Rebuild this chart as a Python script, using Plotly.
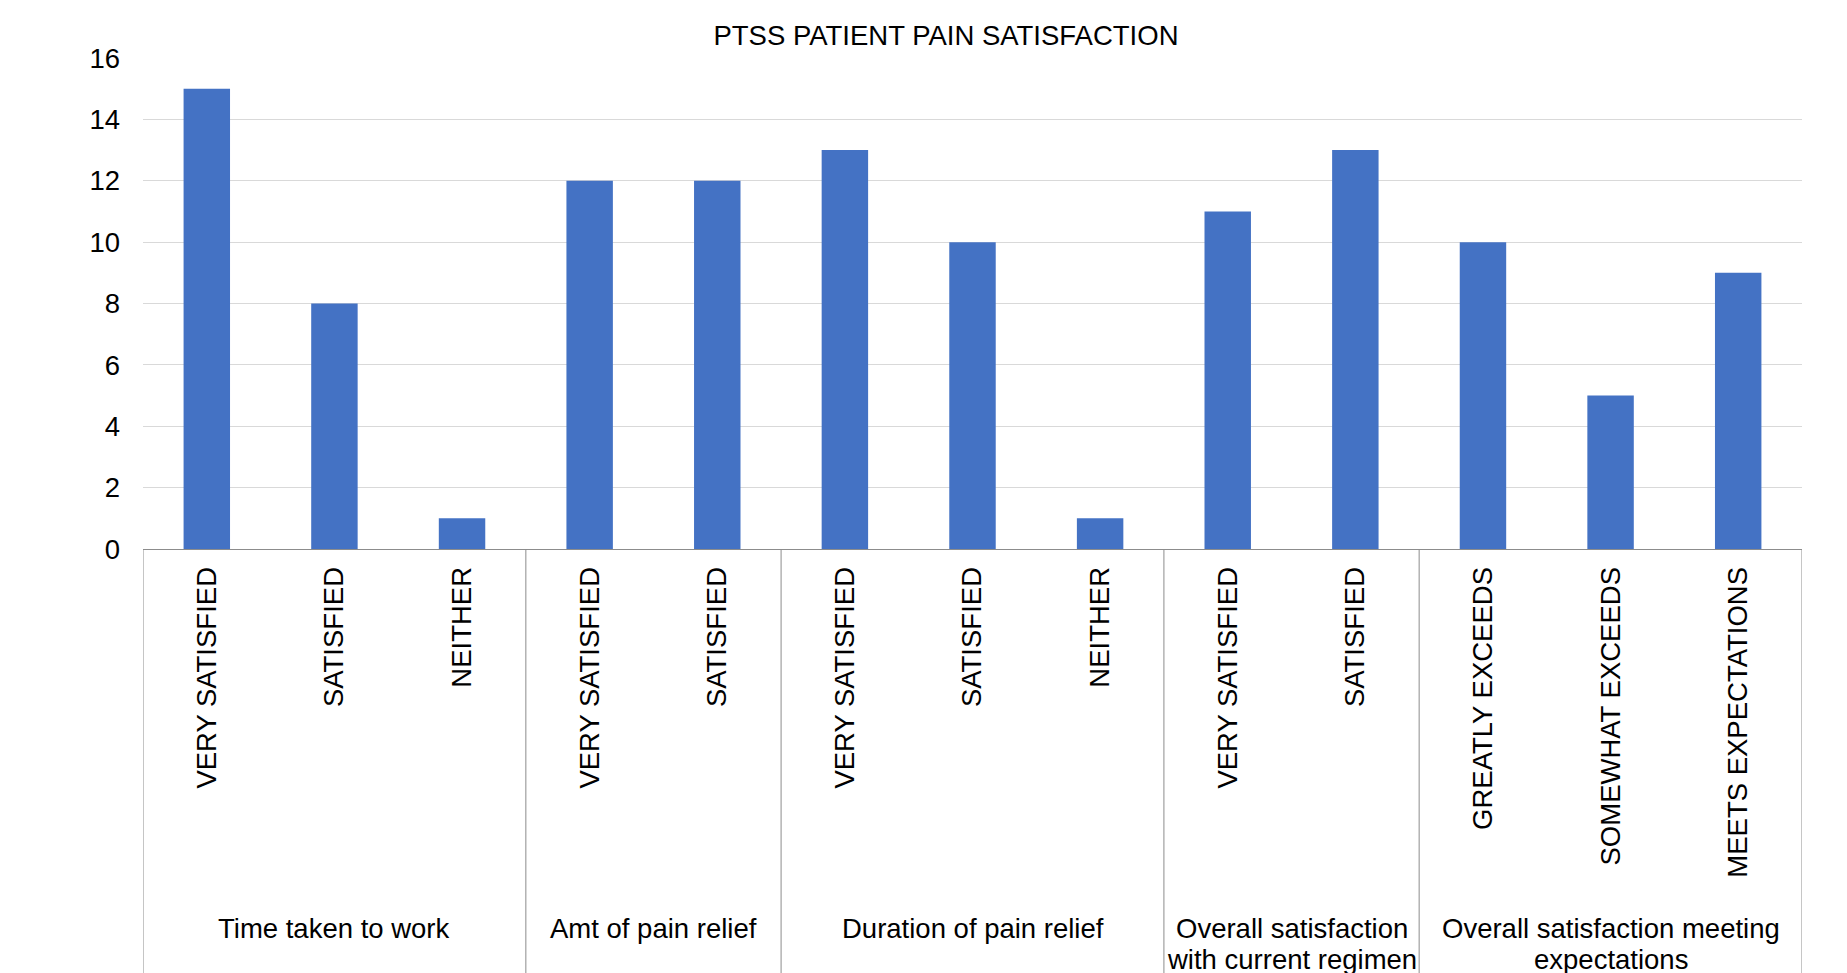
import plotly.graph_objects as go

title = "PTSS PATIENT PAIN SATISFACTION"
groups = ["Time taken to work", "Amt of pain relief", "Duration of pain relief",
          "Overall satisfaction<br>with current regimen",
          "Overall satisfaction meeting<br>expectations"]
group_sizes = [3, 2, 3, 2, 3]
labels = ["VERY SATISFIED", "SATISFIED", "NEITHER",
          "VERY SATISFIED", "SATISFIED",
          "VERY SATISFIED", "SATISFIED", "NEITHER",
          "VERY SATISFIED", "SATISFIED",
          "GREATLY EXCEEDS", "SOMEWHAT EXCEEDS", "MEETS EXPECTATIONS"]
values = [15, 8, 1, 12, 12, 13, 10, 1, 11, 13, 10, 5, 9]

FONT = "Liberation Sans, Arial, sans-serif"
FS = 27.5
W, H = 1847, 973
ML, MR, MT, MB = 143, 45, 58, 424

xs = list(range(len(labels)))
fig = go.Figure(go.Bar(x=xs, y=values, marker=dict(color="#4472C4", line=dict(width=0)),
                       width=0.364))

plot_h = H - MT - MB
bottom_px = H - MB
shapes = []
annotations = []
start = 0
bounds = [-0.5]
line_centers = [928, 959]
for g, n in zip(groups, group_sizes):
    center = start + (n - 1) / 2
    for i, part in enumerate(g.split("<br>")):
        annotations.append(dict(x=center, xref="x",
                                y=-(line_centers[i] - bottom_px) / plot_h, yref="paper",
                                text=part, showarrow=False, xanchor="center", yanchor="middle",
                                font=dict(family=FONT, size=FS, color="#000000")))
    start += n
    bounds.append(start - 0.5)
for b in bounds:
    shapes.append(dict(type="line", xref="x", yref="paper", x0=b, x1=b, y0=0, y1=-1.0,
                       line=dict(color="#8c8c8c", width=1)))

fig.update_layout(
    width=W, height=H,
    margin=dict(l=ML, r=MR, t=MT, b=MB, pad=0),
    paper_bgcolor="white", plot_bgcolor="white",
    showlegend=False,
    title=dict(text=title, xref="container", x=946 / W, xanchor="center",
               y=1 - 35 / H, yanchor="middle",
               font=dict(family=FONT, size=FS, color="#000000")),
    xaxis=dict(tickmode="array", tickvals=xs, ticktext=labels, tickangle=-90,
               range=[-0.5, len(labels) - 0.5], showgrid=False, zeroline=False,
               showline=True, linecolor="#8c8c8c", linewidth=1, ticks="",
               ticklabelstandoff=6,
               tickfont=dict(family=FONT, size=FS, color="#000000")),
    yaxis=dict(range=[0, 16], dtick=2, showgrid=True, gridcolor="#d9d9d9", gridwidth=1,
               zeroline=False, showline=False, ticks="", ticklabelstandoff=22,
               tickfont=dict(family=FONT, size=FS, color="#000000")),
    shapes=shapes, annotations=annotations,
)

fig.write_html("out.html")
